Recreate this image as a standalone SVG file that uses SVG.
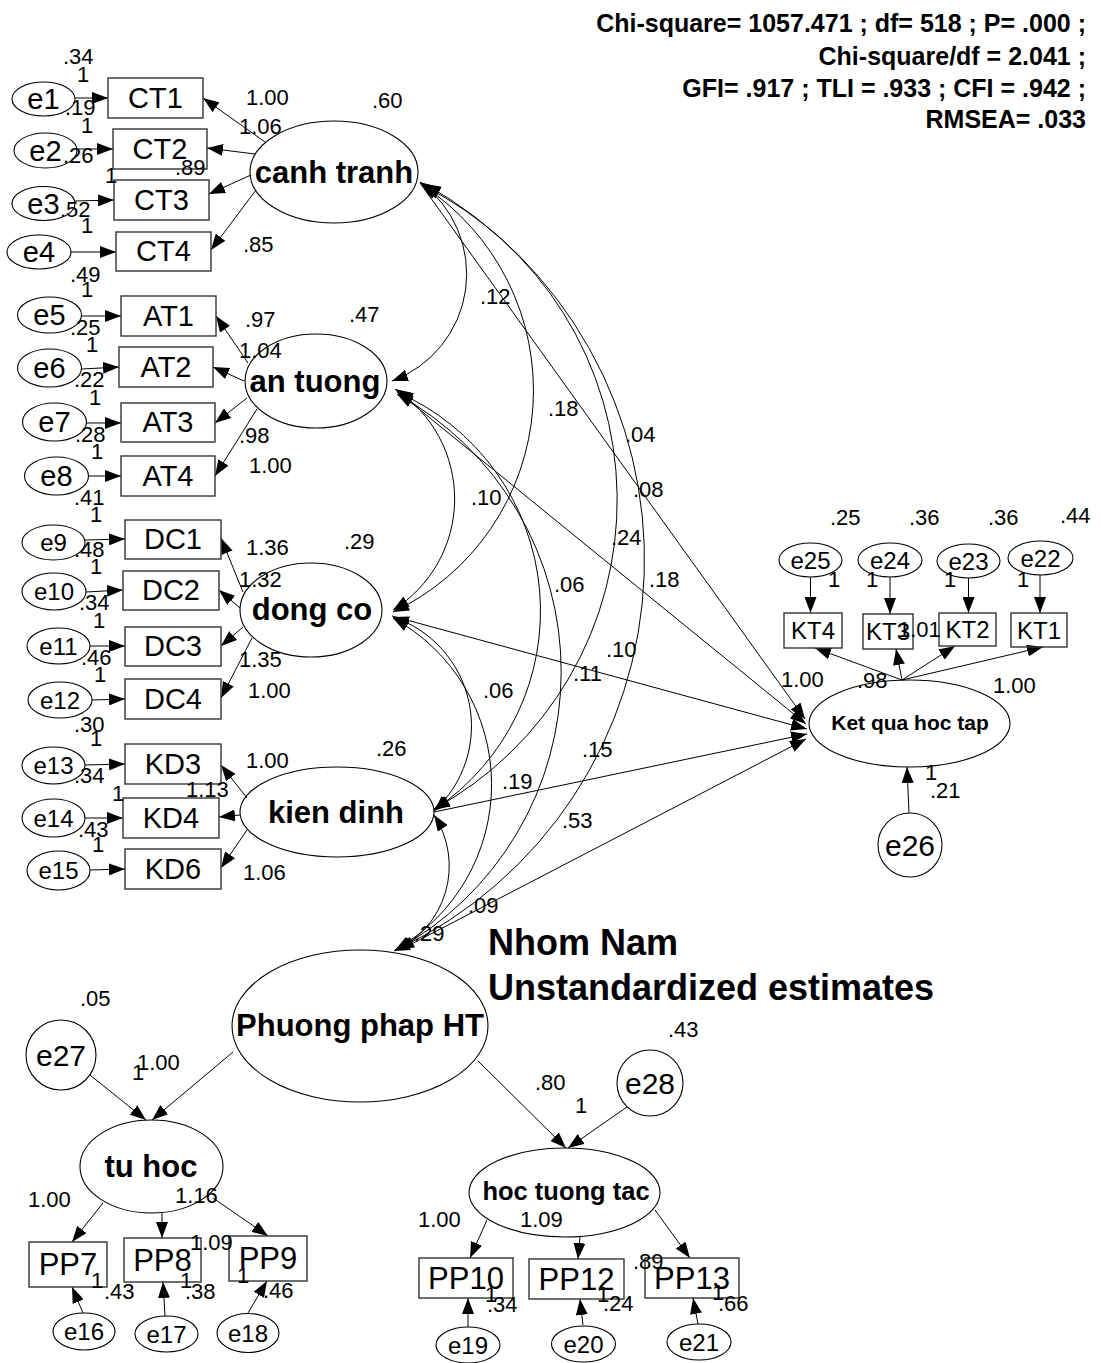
<svg xmlns="http://www.w3.org/2000/svg" width="1101" height="1363" viewBox="0 0 1101 1363">
<style>
  .bg { fill: #ffffff; }
  .shape { fill: none; stroke: #000; stroke-width: 1.1; }
  .box { fill: none; stroke: #333; stroke-width: 1.4; }
  .path { fill: none; stroke: #000; stroke-width: 1; marker-end: url(#head); }
  .cov { fill: none; stroke: #000; stroke-width: 1; marker-start: url(#head); marker-end: url(#head); }
  text { font-family: "Liberation Sans", Arial, sans-serif; fill: #000; }
  .ind { font-size: 29px; text-anchor: middle; }
  .pp { font-size: 31px; text-anchor: middle; }
  .kt { font-size: 24px; text-anchor: middle; }
  .eb { font-size: 29px; text-anchor: middle; }
  .es { font-size: 24px; text-anchor: middle; }
  .ec { font-size: 30px; text-anchor: middle; }
  .lat { font-size: 31px; font-weight: bold; text-anchor: middle; }
  .v { font-size: 22px; }
  .fit { font-size: 25px; font-weight: bold; text-anchor: end; }
  .title { font-size: 36px; font-weight: bold; }
</style>
<defs>
  <marker id="head" viewBox="0 0 16 12" refX="16" refY="6" markerWidth="16" markerHeight="12" markerUnits="userSpaceOnUse" orient="auto-start-reverse">
    <path d="M0,0 L16,6 L0,12 z" fill="#000"/>
  </marker>
</defs>
<rect class="bg" x="0" y="0" width="1101" height="1363"/>

<!-- model fit summary -->
<g id="fit">
  <text class="fit" x="1086" y="32">Chi-square= 1057.471 ; df= 518 ; P= .000 ;</text>
  <text class="fit" x="1086" y="65">Chi-square/df = 2.041 ;</text>
  <text class="fit" x="1086" y="97">GFI= .917 ; TLI = .933 ; CFI = .942 ;</text>
  <text class="fit" x="1086" y="128">RMSEA= .033</text>
</g>
<g id="title">
  <text class="title" x="488" y="955">Nhom Nam</text>
  <text class="title" x="488" y="1000">Unstandardized estimates</text>
</g>

<!-- paths and covariances -->
<g id="connectors">
  <!-- covariances among exogenous factors -->
  <path class="cov" d="M420,182 A114,114 0 0 1 392,381"/>
  <path class="cov" d="M422,185 A245,245 0 0 1 393,612"/>
  <path class="cov" d="M424,186 A352,352 0 0 1 434,809"/>
  <path class="cov" d="M425,184 A431,431 0 0 1 398,949"/>
  <path class="cov" d="M395,389 A131,131 0 0 1 393,610"/>
  <path class="cov" d="M397,392 A239,239 0 0 1 434,810"/>
  <path class="cov" d="M397,394 A317,317 0 0 1 396,950"/>
  <path class="cov" d="M393,617 A115,115 0 0 1 434,811"/>
  <path class="cov" d="M393,618 A190,190 0 0 1 395,950"/>
  <path class="cov" d="M434,815 A93,93 0 0 1 394,951"/>
  <!-- structural paths into Ket qua hoc tap -->
  <line class="path" x1="420" y1="183" x2="805" y2="719"/>
  <line class="path" x1="398" y1="392" x2="806" y2="724"/>
  <line class="path" x1="392" y1="616" x2="807" y2="729"/>
  <line class="path" x1="434" y1="812" x2="807" y2="734"/>
  <line class="path" x1="400" y1="950" x2="806" y2="739"/>
  <!-- canh tranh loadings -->
  <line class="path" x1="265" y1="142" x2="203" y2="98"/>
  <line class="path" x1="255" y1="154" x2="207" y2="148"/>
  <line class="path" x1="251" y1="175" x2="209" y2="194"/>
  <line class="path" x1="256" y1="190" x2="211" y2="250"/>
  <!-- an tuong loadings -->
  <line class="path" x1="248" y1="363" x2="216" y2="316"/>
  <line class="path" x1="244" y1="381" x2="213" y2="367"/>
  <line class="path" x1="247" y1="398" x2="215" y2="423"/>
  <line class="path" x1="257" y1="409" x2="215" y2="476"/>
  <!-- dong co loadings -->
  <line class="path" x1="243" y1="592" x2="221" y2="538"/>
  <line class="path" x1="240" y1="608" x2="219" y2="590"/>
  <line class="path" x1="243" y1="627" x2="221" y2="646"/>
  <line class="path" x1="252" y1="638" x2="221" y2="698"/>
  <!-- kien dinh loadings -->
  <line class="path" x1="247" y1="798" x2="221" y2="765"/>
  <line class="path" x1="240" y1="815" x2="219" y2="817"/>
  <line class="path" x1="247" y1="830" x2="221" y2="868"/>
  <!-- measurement errors, left blocks -->
  <line class="path" x1="75" y1="98" x2="108" y2="98"/>
  <line class="path" x1="77" y1="149" x2="113" y2="149"/>
  <line class="path" x1="75" y1="201" x2="114" y2="200"/>
  <line class="path" x1="71" y1="252" x2="116" y2="252"/>
  <line class="path" x1="82" y1="316" x2="121" y2="316"/>
  <line class="path" x1="82" y1="369" x2="119" y2="367"/>
  <line class="path" x1="86" y1="423" x2="121" y2="423"/>
  <line class="path" x1="88" y1="476" x2="121" y2="476"/>
  <line class="path" x1="85" y1="540" x2="125" y2="539"/>
  <line class="path" x1="86" y1="592" x2="123" y2="590"/>
  <line class="path" x1="90" y1="646" x2="125" y2="646"/>
  <line class="path" x1="92" y1="700" x2="125" y2="699"/>
  <line class="path" x1="85" y1="765" x2="125" y2="764"/>
  <line class="path" x1="85" y1="818" x2="123" y2="818"/>
  <line class="path" x1="90" y1="870" x2="125" y2="869"/>
  <!-- Ket qua hoc tap block -->
  <line class="path" x1="810.5" y1="577" x2="810.5" y2="613"/>
  <line class="path" x1="890" y1="577" x2="890" y2="614"/>
  <line class="path" x1="968.5" y1="578" x2="968.5" y2="613"/>
  <line class="path" x1="1040" y1="575" x2="1040" y2="613"/>
  <line class="path" x1="902" y1="680" x2="815" y2="648"/>
  <line class="path" x1="902" y1="680" x2="896" y2="649"/>
  <line class="path" x1="902" y1="680" x2="955" y2="646"/>
  <line class="path" x1="902" y1="680" x2="1043" y2="647"/>
  <line class="path" x1="909" y1="813" x2="907" y2="767"/>
  <!-- second-order factor -->
  <line class="path" x1="233" y1="1052" x2="152" y2="1120"/>
  <line class="path" x1="90" y1="1075" x2="146" y2="1120"/>
  <line class="path" x1="478" y1="1061" x2="566" y2="1148"/>
  <line class="path" x1="627" y1="1107" x2="568" y2="1148"/>
  <line class="path" x1="103" y1="1203" x2="72" y2="1242"/>
  <line class="path" x1="162" y1="1213" x2="162" y2="1238"/>
  <line class="path" x1="213" y1="1198" x2="268" y2="1236"/>
  <line class="path" x1="83" y1="1313" x2="72" y2="1287"/>
  <line class="path" x1="165" y1="1316" x2="163" y2="1282"/>
  <line class="path" x1="248" y1="1313" x2="267" y2="1281"/>
  <line class="path" x1="487" y1="1220" x2="470" y2="1258"/>
  <line class="path" x1="580" y1="1237" x2="578" y2="1259"/>
  <line class="path" x1="655" y1="1210" x2="690" y2="1258"/>
  <line class="path" x1="468" y1="1327" x2="468" y2="1298"/>
  <line class="path" x1="583" y1="1325" x2="580" y2="1299"/>
  <line class="path" x1="698" y1="1324" x2="693" y2="1298"/>
</g>

<!-- latent factors -->
<g id="canh_tranh"><ellipse class="shape" cx="334" cy="172" rx="84" ry="51"/><text class="lat" x="334" y="183">canh tranh</text></g>
<g id="an_tuong"><ellipse class="shape" cx="316" cy="381" rx="71" ry="47"/><text class="lat" x="315" y="392">an tuong</text></g>
<g id="dong_co"><ellipse class="shape" cx="311" cy="610" rx="71" ry="47"/><text class="lat" x="312" y="620">dong co</text></g>
<g id="kien_dinh"><ellipse class="shape" cx="337" cy="812" rx="97" ry="45"/><text class="lat" x="336" y="823">kien dinh</text></g>
<g id="phuong_phap_ht"><ellipse class="shape" cx="360" cy="1026" rx="128" ry="76"/><text class="lat" x="360" y="1036">Phuong phap HT</text></g>
<g id="tu_hoc"><ellipse class="shape" cx="151.5" cy="1166.5" rx="71.5" ry="46.5"/><text class="lat" x="151" y="1177">tu hoc</text></g>
<g id="hoc_tuong_tac"><ellipse class="shape" cx="564.5" cy="1192.5" rx="95.5" ry="44.5"/><text class="lat" x="566" y="1200" style="font-size:25.5px">hoc tuong tac</text></g>
<g id="ket_qua_hoc_tap"><ellipse class="shape" cx="909.5" cy="723.5" rx="100.5" ry="43.5"/><text class="lat" x="910" y="730" style="font-size:21px">Ket qua hoc tap</text></g>

<!-- observed indicators -->
<g id="CT1"><rect class="box" x="108" y="78" width="95" height="40"/><text class="ind" x="155.5" y="108">CT1</text></g>
<g id="CT2"><rect class="box" x="113" y="129" width="94" height="40"/><text class="ind" x="160" y="159">CT2</text></g>
<g id="CT3"><rect class="box" x="114" y="180" width="95" height="40"/><text class="ind" x="161.5" y="210">CT3</text></g>
<g id="CT4"><rect class="box" x="116" y="232" width="95" height="39"/><text class="ind" x="163.5" y="261">CT4</text></g>
<g id="AT1"><rect class="box" x="121" y="296" width="95" height="40"/><text class="ind" x="168.5" y="326">AT1</text></g>
<g id="AT2"><rect class="box" x="119" y="347" width="94" height="40"/><text class="ind" x="166" y="377">AT2</text></g>
<g id="AT3"><rect class="box" x="121" y="403" width="94" height="39"/><text class="ind" x="168" y="432">AT3</text></g>
<g id="AT4"><rect class="box" x="121" y="456" width="94" height="40"/><text class="ind" x="168" y="486">AT4</text></g>
<g id="DC1"><rect class="box" x="125" y="520" width="96" height="39"/><text class="ind" x="173" y="549">DC1</text></g>
<g id="DC2"><rect class="box" x="123" y="571" width="96" height="39"/><text class="ind" x="171" y="600">DC2</text></g>
<g id="DC3"><rect class="box" x="125" y="627" width="96" height="39"/><text class="ind" x="173" y="656">DC3</text></g>
<g id="DC4"><rect class="box" x="125" y="679" width="96" height="40"/><text class="ind" x="173" y="709">DC4</text></g>
<g id="KD3"><rect class="box" x="125" y="744" width="96" height="40"/><text class="ind" x="173" y="774">KD3</text></g>
<g id="KD4"><rect class="box" x="123" y="798" width="96" height="40"/><text class="ind" x="171" y="828">KD4</text></g>
<g id="KD6"><rect class="box" x="125" y="849" width="96" height="40"/><text class="ind" x="173" y="879">KD6</text></g>
<g id="PP7"><rect class="box" x="29" y="1242" width="78" height="45"/><text class="pp" x="68" y="1275">PP7</text></g>
<g id="PP8"><rect class="box" x="124" y="1238" width="77" height="44"/><text class="pp" x="162.5" y="1271">PP8</text></g>
<g id="PP9"><rect class="box" x="229" y="1236" width="78" height="45"/><text class="pp" x="268" y="1269">PP9</text></g>
<g id="PP10"><rect class="box" x="419" y="1258" width="94" height="40"/><text class="pp" x="466" y="1289">PP10</text></g>
<g id="PP12"><rect class="box" x="529" y="1259" width="95" height="40"/><text class="pp" x="576.5" y="1290">PP12</text></g>
<g id="PP13"><rect class="box" x="645" y="1258" width="94" height="40"/><text class="pp" x="692" y="1289">PP13</text></g>
<g id="KT4"><rect class="box" x="784" y="613" width="58" height="35"/><text class="kt" x="813" y="639">KT4</text></g>
<g id="KT3"><rect class="box" x="863" y="614" width="50" height="35"/><text class="kt" x="888" y="640">KT3</text></g>
<g id="KT2"><rect class="box" x="939" y="613" width="57" height="33"/><text class="kt" x="967.5" y="638">KT2</text></g>
<g id="KT1"><rect class="box" x="1011" y="613" width="56" height="34"/><text class="kt" x="1039" y="639">KT1</text></g>

<!-- error terms -->
<g id="e1"><ellipse class="shape" cx="43.5" cy="99" rx="31.5" ry="17"/><text class="eb" x="43.5" y="109">e1</text></g>
<g id="e2"><ellipse class="shape" cx="45.5" cy="150.5" rx="31.5" ry="17.5"/><text class="eb" x="45.5" y="160.5">e2</text></g>
<g id="e3"><ellipse class="shape" cx="43.5" cy="203.5" rx="31.5" ry="17"/><text class="eb" x="43.5" y="213.5">e3</text></g>
<g id="e4"><ellipse class="shape" cx="39" cy="252" rx="32" ry="17"/><text class="eb" x="39" y="262">e4</text></g>
<g id="e5"><ellipse class="shape" cx="49.5" cy="315" rx="32" ry="18"/><text class="eb" x="49.5" y="325">e5</text></g>
<g id="e6"><ellipse class="shape" cx="49.5" cy="368" rx="32" ry="19"/><text class="eb" x="49.5" y="378">e6</text></g>
<g id="e7"><ellipse class="shape" cx="54.5" cy="422" rx="32" ry="19"/><text class="eb" x="54.5" y="432">e7</text></g>
<g id="e8"><ellipse class="shape" cx="56.5" cy="476" rx="32" ry="19"/><text class="eb" x="56.5" y="486">e8</text></g>
<g id="e9"><ellipse class="shape" cx="53.5" cy="542.5" rx="31.5" ry="17.5"/><text class="es" x="53.5" y="551">e9</text></g>
<g id="e10"><ellipse class="shape" cx="54" cy="591.5" rx="32" ry="18.5"/><text class="es" x="54" y="600">e10</text></g>
<g id="e11"><ellipse class="shape" cx="58.5" cy="646" rx="31.5" ry="18"/><text class="es" x="58.5" y="654.5">e11</text></g>
<g id="e12"><ellipse class="shape" cx="60" cy="700" rx="32" ry="18"/><text class="es" x="60" y="708.5">e12</text></g>
<g id="e13"><ellipse class="shape" cx="53.5" cy="765.5" rx="31.5" ry="18.5"/><text class="es" x="53.5" y="774">e13</text></g>
<g id="e14"><ellipse class="shape" cx="53.5" cy="818" rx="31.5" ry="19"/><text class="es" x="53.5" y="826.5">e14</text></g>
<g id="e15"><ellipse class="shape" cx="58.5" cy="870.5" rx="31.5" ry="19.5"/><text class="es" x="58.5" y="879">e15</text></g>
<g id="e16"><ellipse class="shape" cx="84" cy="1331.5" rx="31" ry="18.5"/><text class="es" x="84" y="1340">e16</text></g>
<g id="e17"><ellipse class="shape" cx="166.5" cy="1334" rx="31.5" ry="18"/><text class="es" x="166.5" y="1342.5">e17</text></g>
<g id="e18"><ellipse class="shape" cx="248" cy="1333" rx="31" ry="19.5"/><text class="es" x="248" y="1341.5">e18</text></g>
<g id="e19"><ellipse class="shape" cx="468" cy="1345" rx="32" ry="18"/><text class="es" x="468" y="1353.5">e19</text></g>
<g id="e20"><ellipse class="shape" cx="583.5" cy="1344" rx="32" ry="18"/><text class="es" x="583.5" y="1352.5">e20</text></g>
<g id="e21"><ellipse class="shape" cx="699" cy="1342" rx="32" ry="18"/><text class="es" x="699" y="1350.5">e21</text></g>
<g id="e22"><ellipse class="shape" cx="1040.5" cy="558" rx="32.5" ry="17"/><text class="es" x="1040.5" y="566.5">e22</text></g>
<g id="e23"><ellipse class="shape" cx="968.5" cy="561" rx="31.5" ry="17"/><text class="es" x="968.5" y="569.5">e23</text></g>
<g id="e24"><ellipse class="shape" cx="890" cy="560" rx="32" ry="17"/><text class="es" x="890" y="568.5">e24</text></g>
<g id="e25"><ellipse class="shape" cx="810.5" cy="560" rx="31.5" ry="17"/><text class="es" x="810.5" y="568.5">e25</text></g>
<g id="e26"><circle class="shape" cx="910" cy="845" r="32"/><text class="ec" x="910" y="856">e26</text></g>
<g id="e27"><circle class="shape" cx="61" cy="1055" r="35"/><text class="ec" x="61" y="1066">e27</text></g>
<g id="e28"><circle class="shape" cx="650" cy="1083" r="33"/><text class="ec" x="650" y="1094">e28</text></g>

<!-- estimates -->
<g id="estimates" class="v">
  <text class="v" x="63" y="64">.34</text>
  <text class="v" x="77" y="82">1</text>
  <text class="v" x="65" y="115">.19</text>
  <text class="v" x="81" y="133">1</text>
  <text class="v" x="63" y="163">.26</text>
  <text class="v" x="105" y="183">1</text>
  <text class="v" x="175" y="175">.89</text>
  <text class="v" x="60" y="217">.52</text>
  <text class="v" x="81" y="233">1</text>
  <text class="v" x="70" y="282">.49</text>
  <text class="v" x="81" y="297">1</text>
  <text class="v" x="246" y="105">1.00</text>
  <text class="v" x="239" y="134">1.06</text>
  <text class="v" x="372" y="108">.60</text>
  <text class="v" x="243" y="252">.85</text>

  <text class="v" x="70" y="335">.25</text>
  <text class="v" x="86" y="352">1</text>
  <text class="v" x="74" y="387">.22</text>
  <text class="v" x="89" y="405">1</text>
  <text class="v" x="75" y="442">.28</text>
  <text class="v" x="91" y="459">1</text>
  <text class="v" x="74" y="505">.41</text>
  <text class="v" x="90" y="522">1</text>
  <text class="v" x="245" y="327">.97</text>
  <text class="v" x="239" y="358">1.04</text>
  <text class="v" x="349" y="322">.47</text>
  <text class="v" x="239" y="443">.98</text>
  <text class="v" x="249" y="473">1.00</text>

  <text class="v" x="74" y="557">.48</text>
  <text class="v" x="90" y="574">1</text>
  <text class="v" x="79" y="610">.34</text>
  <text class="v" x="93" y="628">1</text>
  <text class="v" x="81" y="665">.46</text>
  <text class="v" x="94" y="682">1</text>
  <text class="v" x="74" y="732">.30</text>
  <text class="v" x="90" y="746">1</text>
  <text class="v" x="246" y="555">1.36</text>
  <text class="v" x="239" y="587">1.32</text>
  <text class="v" x="344" y="549">.29</text>
  <text class="v" x="239" y="667">1.35</text>
  <text class="v" x="248" y="698">1.00</text>

  <text class="v" x="74" y="783">.34</text>
  <text class="v" x="112" y="801">1</text>
  <text class="v" x="78" y="837">.43</text>
  <text class="v" x="92" y="852">1</text>
  <text class="v" x="246" y="768">1.00</text>
  <text class="v" x="186" y="797">1.13</text>
  <text class="v" x="376" y="756">.26</text>
  <text class="v" x="243" y="880">1.06</text>

  <text class="v" x="480" y="304">.12</text>
  <text class="v" x="548" y="416">.18</text>
  <text class="v" x="625" y="442">.04</text>
  <text class="v" x="633" y="497">.08</text>
  <text class="v" x="471" y="505">.10</text>
  <text class="v" x="611" y="545">.24</text>
  <text class="v" x="554" y="592">.06</text>
  <text class="v" x="649" y="587">.18</text>
  <text class="v" x="606" y="657">.10</text>
  <text class="v" x="573" y="681">.11</text>
  <text class="v" x="483" y="698">.06</text>
  <text class="v" x="582" y="757">.15</text>
  <text class="v" x="502" y="789">.19</text>
  <text class="v" x="562" y="828">.53</text>
  <text class="v" x="468" y="913">.09</text>
  <text class="v" x="414" y="941">.29</text>

  <text class="v" x="830" y="525">.25</text>
  <text class="v" x="909" y="525">.36</text>
  <text class="v" x="988" y="525">.36</text>
  <text class="v" x="1060" y="523">.44</text>
  <text class="v" x="828" y="587">1</text>
  <text class="v" x="866" y="587">1</text>
  <text class="v" x="944" y="587">1</text>
  <text class="v" x="1017" y="587">1</text>
  <text class="v" x="898" y="637">1.01</text>
  <text class="v" x="781" y="687">1.00</text>
  <text class="v" x="857" y="688">.98</text>
  <text class="v" x="993" y="693">1.00</text>
  <text class="v" x="925" y="780">1</text>
  <text class="v" x="930" y="798">.21</text>

  <text class="v" x="80" y="1006">.05</text>
  <text class="v" x="137" y="1070">1.00</text>
  <text class="v" x="132" y="1080">1</text>
  <text class="v" x="28" y="1207">1.00</text>
  <text class="v" x="175" y="1203">1.16</text>
  <text class="v" x="190" y="1250">1.09</text>
  <text class="v" x="91" y="1288">1</text>
  <text class="v" x="104" y="1299">.43</text>
  <text class="v" x="180" y="1288">1</text>
  <text class="v" x="185" y="1299">.38</text>
  <text class="v" x="237" y="1283">1</text>
  <text class="v" x="263" y="1298">.46</text>

  <text class="v" x="668" y="1037">.43</text>
  <text class="v" x="535" y="1090">.80</text>
  <text class="v" x="575" y="1113">1</text>
  <text class="v" x="418" y="1227">1.00</text>
  <text class="v" x="520" y="1227">1.09</text>
  <text class="v" x="633" y="1269">.89</text>
  <text class="v" x="485" y="1302">1</text>
  <text class="v" x="487" y="1312">.34</text>
  <text class="v" x="597" y="1302">1</text>
  <text class="v" x="603" y="1311">.24</text>
  <text class="v" x="712" y="1300">1</text>
  <text class="v" x="718" y="1311">.66</text>
</g>
</svg>
